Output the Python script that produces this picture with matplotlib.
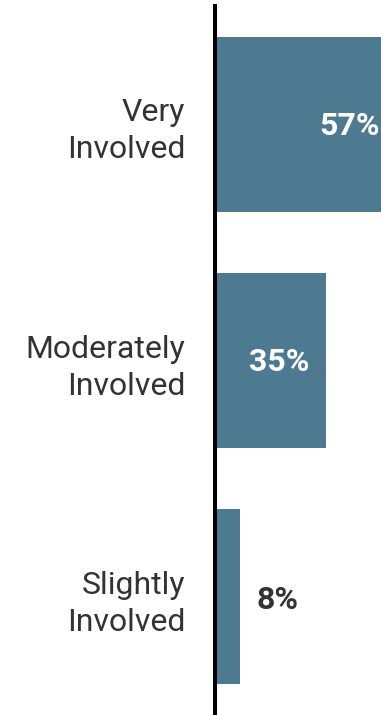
import matplotlib
matplotlib.use("Agg")
import matplotlib.pyplot as plt
from matplotlib.transforms import offset_copy

plt.rcParams['font.family'] = ['Roboto', 'DejaVu Sans']

categories = ["Very\nInvolved", "Moderately\nInvolved", "Slightly\nInvolved"]
values = [57, 35, 8]
labels = ["57%", "35%", "8%"]

bar_color = '#4e7a91'
text_color = '#333333'

fig = plt.figure(figsize=(3.81, 7.15), dpi=100)
ax = fig.add_axes([214.5 / 381, 0, (381 - 214.5) / 381, 709 / 715])

ypos = range(len(values))
ax.barh(ypos, values, height=0.74, color=bar_color, zorder=1)
ax.set_xlim(0, 52.2)
ax.set_ylim(2.5, -0.5)

ax.set_yticks(list(ypos))
ax.set_yticklabels(categories, fontsize=23, color=text_color, linespacing=1.35)
ax.tick_params(axis='y', length=0, pad=21)
ax.tick_params(axis='x', bottom=False, labelbottom=False)
for t in ax.get_yticklabels():
    t.set_transform(t.get_transform() + offset_copy(ax.transData, fig=fig, x=0, y=3, units='dots') - ax.transData)

for s in ['top', 'right', 'bottom']:
    ax.spines[s].set_visible(False)
ax.spines['left'].set_linewidth(2.9)
ax.spines['left'].set_color('black')
ax.spines['left'].set_zorder(3)

# value labels
right_tr = offset_copy(ax.transData, fig=fig, x=-1, y=-2, units='dots')
in_tr = offset_copy(ax.transData, fig=fig, x=-17, y=-1, units='dots')
out_tr = offset_copy(ax.transData, fig=fig, x=16, y=-3, units='dots')
for i, (v, lab) in enumerate(zip(values, labels)):
    if v > ax.get_xlim()[1]:
        ax.text(ax.get_xlim()[1], i, lab, transform=right_tr, ha='right', va='center',
                fontsize=23, fontweight='bold', color='white', clip_on=False)
    elif v >= 20:
        ax.text(v, i, lab, transform=in_tr, ha='right', va='center',
                fontsize=23, fontweight='bold', color='white')
    else:
        ax.text(v, i, lab, transform=out_tr, ha='left', va='center',
                fontsize=23, fontweight='bold', color=text_color)

fig.savefig('out.png', dpi=100)
